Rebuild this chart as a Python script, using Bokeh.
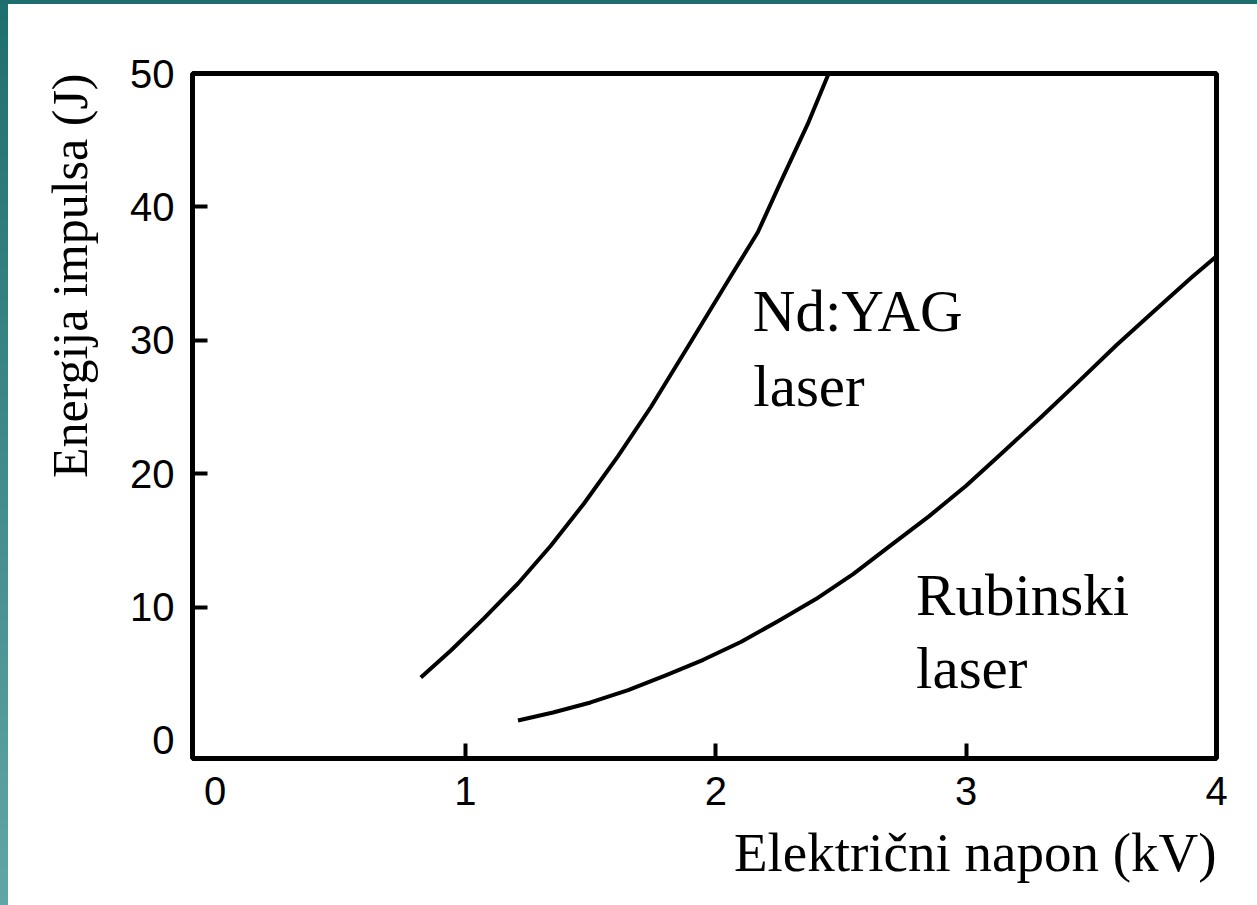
from bokeh.plotting import figure
from bokeh.models import FixedTicker, Range1d, Title, GlobalInlineStyleSheet
from bokeh.core.properties import value
from bokeh.embed import file_html
from bokeh.resources import INLINE

# --- data ---
ndyag_x = [0.822, 0.942, 1.074, 1.210, 1.341, 1.473, 1.609, 1.741, 1.888, 2.060, 2.168, 2.260, 2.367, 2.451]
ndyag_y = [4.72, 6.75, 9.15, 11.77, 14.6, 17.75, 21.3, 25.0, 29.5, 34.8, 38.1, 41.9, 46.2, 50.0]

ruby_x = [1.21, 1.35, 1.50, 1.65, 1.80, 1.95, 2.10, 2.25, 2.40, 2.55, 2.70, 2.85,
          3.00, 3.15, 3.30, 3.45, 3.60, 3.75, 3.90, 4.00]
ruby_y = [1.50, 2.10, 2.85, 3.78, 4.88, 6.05, 7.38, 8.96, 10.6, 12.49, 14.65, 16.78,
          19.1, 21.67, 24.25, 26.92, 29.63, 32.17, 34.7, 36.3]

x_labels = [0, 1, 2, 3, 4]
x_tick_marks = [1, 2, 3]
y_labels = [0, 10, 20, 30, 40, 50]
y_tick_marks = [10, 20, 30, 40]

ann_text = ["Nd:YAG", "laser", "Rubinski", "laser"]
ann_x = [2.148, 2.150, 2.800, 2.800]
ann_y = [32.23, 26.61, 10.87, 5.4]

x_title = "Električni napon (kV)"
y_title = "Energija impulsa (J)"

# --- figure ---
p = figure(width=1249, height=901, output_backend="svg", toolbar_location=None,
           x_range=Range1d(-0.09, 4.0), y_range=Range1d(-1.35, 50),
           min_border_left=184, min_border_right=41, min_border_top=69, min_border_bottom=147,
           background_fill_color="white", border_fill_color="white")

# teal slide frame (top strip and left gradient strip) around the picture
p.stylesheets = [GlobalInlineStyleSheet(css=(
    "html { background: linear-gradient(#1f6e6e,#1f6e6e) 0 0/100% 4px no-repeat, "
    "linear-gradient(180deg,#1f6e6e,#60a6a4) 0 0/8px 100% no-repeat, #ffffff !important; } "
    "body { padding: 4px 0 0 8px !important; }"))]

p.xgrid.visible = False
p.ygrid.visible = False
p.outline_line_color = "black"
p.outline_line_width = 5
p.outline_line_alpha = 1.0

for ax, labels, marks in ((p.xaxis[0], x_labels, x_tick_marks), (p.yaxis[0], y_labels, y_tick_marks)):
    ax.ticker = FixedTicker(ticks=labels, minor_ticks=marks)
    ax.axis_line_color = None
    ax.major_tick_line_color = None
    ax.minor_tick_line_color = "black"
    ax.minor_tick_line_width = 4
    ax.minor_tick_in = 15
    ax.minor_tick_out = 0
    ax.major_label_text_font = "Liberation Sans"
    ax.major_label_text_font_size = "40px"
    ax.major_label_text_color = "black"
    ax.major_label_standoff = 12

p.add_layout(Title(text=x_title, align="right", text_font="Liberation Serif",
                   text_font_size="55px", text_font_style="normal", text_color="black",
                   standoff=25), "below")
p.add_layout(Title(text=y_title, align="right", text_font="Liberation Serif",
                   text_font_size="50px", text_font_style="normal", text_color="black",
                   standoff=59), "left")

p.line(ndyag_x, ndyag_y, line_color="black", line_width=4, line_join="round")
p.line(ruby_x, ruby_y, line_color="black", line_width=4, line_join="round")

p.text(x=ann_x, y=ann_y, text=ann_text, text_font=value("Liberation Serif"),
       text_font_size="59px", text_color="black", text_baseline="alphabetic", text_align="left")

open("out.html", "w").write(file_html(p, INLINE))
